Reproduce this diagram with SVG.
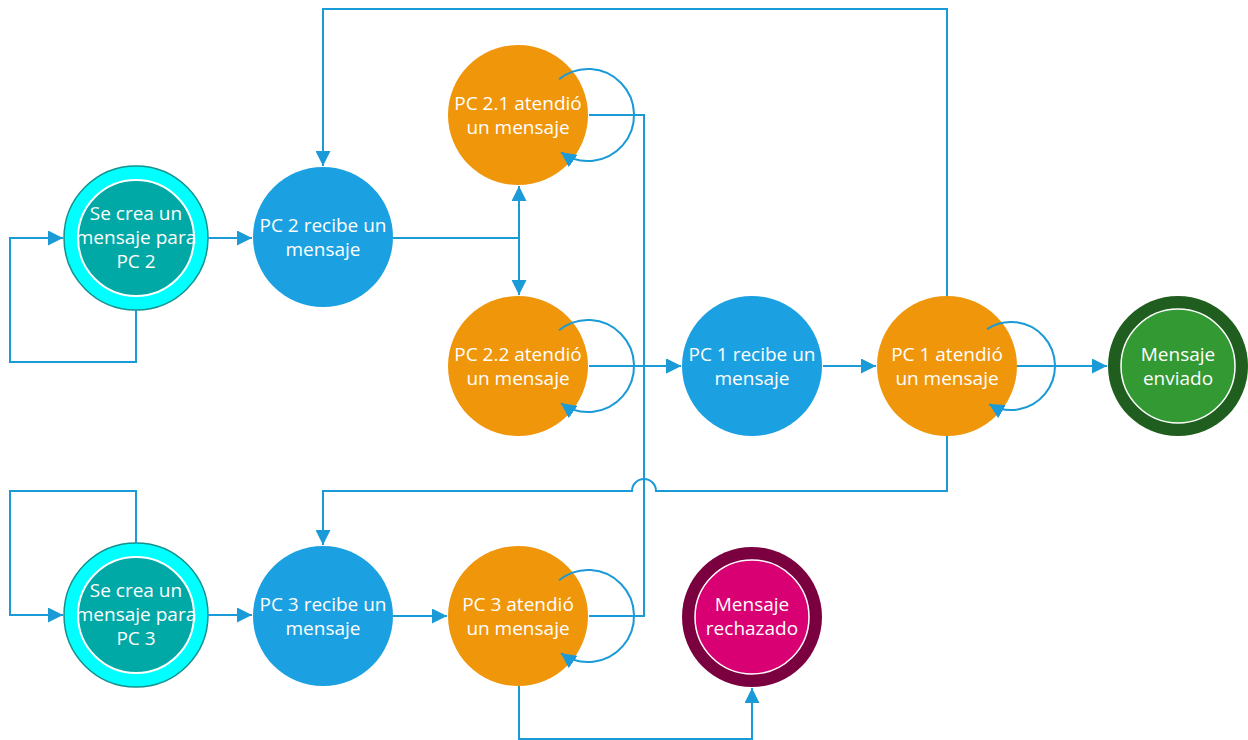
<svg xmlns="http://www.w3.org/2000/svg" width="1248" height="740" viewBox="0 0 1248 740">
<defs>
<marker id="arr" markerUnits="userSpaceOnUse" markerWidth="16" markerHeight="15" refX="15" refY="7.5" orient="auto">
<path d="M0,0 L15,7.5 L0,15 z" fill="#1B9AD8"/>
</marker>
<style>
.t{font-family:"Open Sans","Noto Sans","Liberation Sans",sans-serif;font-size:19px;fill:#FFFFFF;text-anchor:middle}
.blue{fill:#1BA1E2}
.orange{fill:#F0960B}
.startO{fill:#00FFFF;stroke:#13918D;stroke-width:1.5}
.startI{fill:#00A9A6;stroke:#FFFFFF;stroke-width:2}
.endGO{fill:#1F5E1F}
.endGI{fill:#339933;stroke:#FFFFFF;stroke-width:1.5}
.endRO{fill:#7B0040}
.endRI{fill:#D80073;stroke:#FFFFFF;stroke-width:1.5}
.c{fill:none;stroke:#1B9AD8;stroke-width:2}
.ca{fill:none;stroke:#1B9AD8;stroke-width:2;marker-end:url(#arr)}
</style>
</defs>
<rect width="1248" height="740" fill="#FFFFFF"/>
<g id="nodes">
<g id="start2">
<circle class="startO" cx="136" cy="238" r="72"/>
<circle class="startI" cx="136" cy="238" r="58"/>
<text class="t" x="136" y="220">Se crea un</text>
<text class="t" x="136" y="244">mensaje para</text>
<text class="t" x="136" y="268">PC 2</text>
</g>
<g id="pc2recibe">
<circle class="blue" cx="323" cy="237" r="70"/>
<text class="t" x="323" y="232">PC 2 recibe un</text>
<text class="t" x="323" y="256">mensaje</text>
</g>
<g id="pc21">
<circle class="orange" cx="518" cy="115" r="70"/>
<text class="t" x="518" y="110">PC 2.1 atendió</text>
<text class="t" x="518" y="134">un mensaje</text>
</g>
<g id="pc22">
<circle class="orange" cx="518" cy="366" r="70"/>
<text class="t" x="518" y="361">PC 2.2 atendió</text>
<text class="t" x="518" y="385">un mensaje</text>
</g>
<g id="pc1recibe">
<circle class="blue" cx="752" cy="366" r="70"/>
<text class="t" x="752" y="361">PC 1 recibe un</text>
<text class="t" x="752" y="385">mensaje</text>
</g>
<g id="pc1atendio">
<circle class="orange" cx="947" cy="366" r="70"/>
<text class="t" x="947" y="361">PC 1 atendió</text>
<text class="t" x="947" y="385">un mensaje</text>
</g>
<g id="enviado">
<circle class="endGO" cx="1178" cy="366" r="70"/>
<circle class="endGI" cx="1178" cy="366" r="57"/>
<text class="t" x="1178" y="361">Mensaje</text>
<text class="t" x="1178" y="385">enviado</text>
</g>
<g id="start3">
<circle class="startO" cx="136" cy="615" r="72"/>
<circle class="startI" cx="136" cy="615" r="58"/>
<text class="t" x="136" y="597">Se crea un</text>
<text class="t" x="136" y="621">mensaje para</text>
<text class="t" x="136" y="645">PC 3</text>
</g>
<g id="pc3recibe">
<circle class="blue" cx="323" cy="616" r="70"/>
<text class="t" x="323" y="611">PC 3 recibe un</text>
<text class="t" x="323" y="635">mensaje</text>
</g>
<g id="pc3atendio">
<circle class="orange" cx="518" cy="616" r="70"/>
<text class="t" x="518" y="611">PC 3 atendió</text>
<text class="t" x="518" y="635">un mensaje</text>
</g>
<g id="rechazado">
<circle class="endRO" cx="752" cy="617" r="70"/>
<circle class="endRI" cx="752" cy="617" r="57"/>
<text class="t" x="752" y="611">Mensaje</text>
<text class="t" x="752" y="635">rechazado</text>
</g>
</g>
<g id="connectors">
<path class="ca" d="M136,310 V362 H10 V238 H63"/>
<path class="ca" d="M208,238 H252"/>
<path class="c" d="M393,238 H519"/>
<path class="ca" d="M519,238 V186"/>
<path class="ca" d="M519,238 V295"/>
<path class="ca" d="M589,115 H644 V366 H681"/>
<path class="c" d="M589,616 H644 V366"/>
<path class="ca" d="M589,366 H681"/>
<path class="ca" d="M823,366 H876"/>
<path class="ca" d="M1017,366 H1107"/>
<path class="ca" d="M947,296 V9 H323 V166"/>
<path class="ca" d="M947,436 V491 H656 A12,12 0 0 0 632,491 H323 V545"/>
<path class="ca" d="M136,543 V491 H10 V615 H63"/>
<path class="ca" d="M208,615 H252"/>
<path class="ca" d="M393,616 H447"/>
<path class="ca" d="M519,686 V739 H752 V688"/>
<path class="ca" d="M559,79.3 A46,46 0 1 1 561,152.2"/>
<path class="ca" d="M559,330.3 A46,46 0 1 1 561,403.2"/>
<path class="ca" d="M559,580.3 A46,46 0 1 1 561,653.2"/>
<path class="ca" d="M987,329.1 A44,44 0 1 1 989,404.1"/>
</g>
</svg>
